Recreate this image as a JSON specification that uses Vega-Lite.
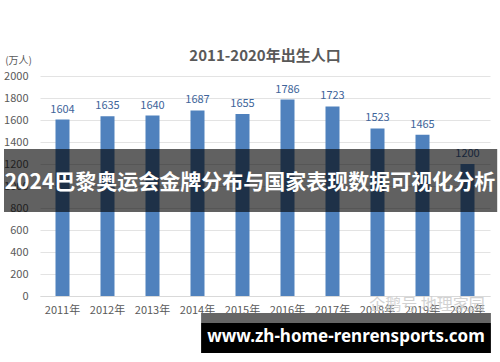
{
  "$schema": "https://vega.github.io/schema/vega-lite/v6.json",
  "width": 450,
  "height": 220,
  "autosize": {"type": "none"},
  "padding": {"left": 40, "top": 76, "right": 10, "bottom": 66},
  "background": "white",
  "title": {"text": "2011-2020年出生人口", "fontSize": 15, "fontWeight": "bold", "color": "#595959", "anchor": "middle", "frame": "group", "offset": -9, "font": "Noto Sans CJK SC"},
  "config": {"view": {"stroke": null}, "font": "Noto Sans CJK SC"},
  "datasets": {
    "births": [
      {"year": "2011年", "births": 1604},
      {"year": "2012年", "births": 1635},
      {"year": "2013年", "births": 1640},
      {"year": "2014年", "births": 1687},
      {"year": "2015年", "births": 1655},
      {"year": "2016年", "births": 1786},
      {"year": "2017年", "births": 1723},
      {"year": "2018年", "births": 1523},
      {"year": "2019年", "births": 1465},
      {"year": "2020年", "births": 1200}
    ],
    "banner": [{"x1": -0.8, "x2": 10.16, "y1": 1336, "y2": 764, "xc": 4.667, "yc": 1030, "label": "2024巴黎奥运会金牌分布与国家表现数据可视化分析"}],
    "strip": [{"x1": 3.58, "x2": 10.02, "y1": -155, "y2": -245}],
    "site": [{"x1": 3.58, "x2": 10.02, "y1": -245, "y2": -518, "xc": 6.8, "yc": -375, "label": "www.zh-home-renrensports.com"}],
    "mark": [{"xc": 8.6, "yc": -82, "label": "企鹅号 地理家园"}]
  },
  "layer": [
    {
      "layer": [
        {
          "mark": {"type": "bar", "color": "#4f81bd", "width": 14},
          "encoding": {
            "y": {"field": "births", "type": "quantitative",
                  "scale": {"domain": [0, 2000], "nice": false},
                  "axis": {"title": "(万人)", "titleAngle": 0, "titleX": -22, "titleY": -16, "titleAlign": "center", "titleBaseline": "middle", "titleFontSize": 10, "titleFontWeight": "normal", "titleColor": "#595959",
                           "values": [0, 200, 400, 600, 800, 1000, 1200, 1400, 1600, 1800, 2000], "format": "d",
                           "grid": true, "gridColor": "#e3e3e3", "domain": false, "ticks": false, "labelPadding": 12, "labelColor": "#595959", "labelFontSize": 11}}
          }
        },
        {
          "mark": {"type": "text", "dy": -10, "color": "#40649a", "fontSize": 11},
          "encoding": {
            "y": {"field": "births", "type": "quantitative",
                  "scale": {"domain": [0, 2000], "nice": false},
                  "axis": {"title": "(万人)", "titleAngle": 0, "titleX": -22, "titleY": -16, "titleAlign": "center", "titleBaseline": "middle", "titleFontSize": 10, "titleFontWeight": "normal", "titleColor": "#595959",
                           "values": [0, 200, 400, 600, 800, 1000, 1200, 1400, 1600, 1800, 2000], "format": "d",
                           "grid": true, "gridColor": "#e3e3e3", "domain": false, "ticks": false, "labelPadding": 12, "labelColor": "#595959", "labelFontSize": 11}},
            "text": {"field": "births", "type": "quantitative"}
          }
        }
      ],
      "data": {"name": "births"},
      "encoding": {
        "x": {"field": "year", "type": "nominal", "sort": null,
              "scale": {"paddingInner": 0, "paddingOuter": 0},
              "axis": {"title": null, "labelAngle": 0, "ticks": false, "domain": true, "domainColor": "#d9d9d9", "labelPadding": 8, "labelColor": "#595959", "labelFontSize": 11, "labelFont": "Noto Sans CJK SC"}}
      }
    },
    {
      "data": {"name": "mark"},
      "mark": {"type": "text", "color": "#c8c8c8", "fontSize": 16, "opacity": 0.8},
      "encoding": {
        "x": {"field": "xc", "type": "quantitative", "scale": {"domain": [0, 10], "nice": false, "zero": false}, "axis": null},
        "y": {"field": "yc", "type": "quantitative", "scale": {"domain": [0, 2000], "nice": false},
              "axis": {"title": "(万人)", "titleAngle": 0, "titleX": -22, "titleY": -16, "titleAlign": "center", "titleBaseline": "middle", "titleFontSize": 10, "titleFontWeight": "normal", "titleColor": "#595959",
                       "values": [0, 200, 400, 600, 800, 1000, 1200, 1400, 1600, 1800, 2000], "format": "d",
                       "grid": true, "gridColor": "#e3e3e3", "domain": false, "ticks": false, "labelPadding": 12, "labelColor": "#595959", "labelFontSize": 11}},
        "text": {"field": "label", "type": "nominal"}
      }
    },
    {
      "data": {"name": "banner"},
      "mark": {"type": "rect", "color": "#000000", "opacity": 0.62},
      "encoding": {
        "x": {"field": "x1", "type": "quantitative", "scale": {"domain": [0, 10], "nice": false, "zero": false}, "axis": null},
        "x2": {"field": "x2"},
        "y": {"field": "y1", "type": "quantitative", "scale": {"domain": [0, 2000], "nice": false},
              "axis": {"title": "(万人)", "titleAngle": 0, "titleX": -22, "titleY": -16, "titleAlign": "center", "titleBaseline": "middle", "titleFontSize": 10, "titleFontWeight": "normal", "titleColor": "#595959",
                       "values": [0, 200, 400, 600, 800, 1000, 1200, 1400, 1600, 1800, 2000], "format": "d",
                       "grid": true, "gridColor": "#e3e3e3", "domain": false, "ticks": false, "labelPadding": 12, "labelColor": "#595959", "labelFontSize": 11}},
        "y2": {"field": "y2"}
      }
    },
    {
      "data": {"name": "banner"},
      "mark": {"type": "text", "color": "#ffffff", "fontSize": 21, "fontWeight": "bold", "font": "Noto Sans CJK SC"},
      "encoding": {
        "x": {"field": "xc", "type": "quantitative", "scale": {"domain": [0, 10], "nice": false, "zero": false}, "axis": null},
        "y": {"field": "yc", "type": "quantitative", "scale": {"domain": [0, 2000], "nice": false},
              "axis": {"title": "(万人)", "titleAngle": 0, "titleX": -22, "titleY": -16, "titleAlign": "center", "titleBaseline": "middle", "titleFontSize": 10, "titleFontWeight": "normal", "titleColor": "#595959",
                       "values": [0, 200, 400, 600, 800, 1000, 1200, 1400, 1600, 1800, 2000], "format": "d",
                       "grid": true, "gridColor": "#e3e3e3", "domain": false, "ticks": false, "labelPadding": 12, "labelColor": "#595959", "labelFontSize": 11}},
        "text": {"field": "label", "type": "nominal"}
      }
    },
    {
      "data": {"name": "strip"},
      "mark": {"type": "rect", "color": "#666666"},
      "encoding": {
        "x": {"field": "x1", "type": "quantitative", "scale": {"domain": [0, 10], "nice": false, "zero": false}, "axis": null},
        "x2": {"field": "x2"},
        "y": {"field": "y1", "type": "quantitative", "scale": {"domain": [0, 2000], "nice": false},
              "axis": {"title": "(万人)", "titleAngle": 0, "titleX": -22, "titleY": -16, "titleAlign": "center", "titleBaseline": "middle", "titleFontSize": 10, "titleFontWeight": "normal", "titleColor": "#595959",
                       "values": [0, 200, 400, 600, 800, 1000, 1200, 1400, 1600, 1800, 2000], "format": "d",
                       "grid": true, "gridColor": "#e3e3e3", "domain": false, "ticks": false, "labelPadding": 12, "labelColor": "#595959", "labelFontSize": 11}},
        "y2": {"field": "y2"}
      }
    },
    {
      "data": {"name": "site"},
      "mark": {"type": "rect", "color": "#000000"},
      "encoding": {
        "x": {"field": "x1", "type": "quantitative", "scale": {"domain": [0, 10], "nice": false, "zero": false}, "axis": null},
        "x2": {"field": "x2"},
        "y": {"field": "y1", "type": "quantitative", "scale": {"domain": [0, 2000], "nice": false},
              "axis": {"title": "(万人)", "titleAngle": 0, "titleX": -22, "titleY": -16, "titleAlign": "center", "titleBaseline": "middle", "titleFontSize": 10, "titleFontWeight": "normal", "titleColor": "#595959",
                       "values": [0, 200, 400, 600, 800, 1000, 1200, 1400, 1600, 1800, 2000], "format": "d",
                       "grid": true, "gridColor": "#e3e3e3", "domain": false, "ticks": false, "labelPadding": 12, "labelColor": "#595959", "labelFontSize": 11}},
        "y2": {"field": "y2"}
      }
    },
    {
      "data": {"name": "site"},
      "mark": {"type": "text", "color": "#ffffff", "fontSize": 17, "fontWeight": "bold", "font": "Noto Sans"},
      "encoding": {
        "x": {"field": "xc", "type": "quantitative", "scale": {"domain": [0, 10], "nice": false, "zero": false}, "axis": null},
        "y": {"field": "yc", "type": "quantitative", "scale": {"domain": [0, 2000], "nice": false},
              "axis": {"title": "(万人)", "titleAngle": 0, "titleX": -22, "titleY": -16, "titleAlign": "center", "titleBaseline": "middle", "titleFontSize": 10, "titleFontWeight": "normal", "titleColor": "#595959",
                       "values": [0, 200, 400, 600, 800, 1000, 1200, 1400, 1600, 1800, 2000], "format": "d",
                       "grid": true, "gridColor": "#e3e3e3", "domain": false, "ticks": false, "labelPadding": 12, "labelColor": "#595959", "labelFontSize": 11}},
        "text": {"field": "label", "type": "nominal"}
      }
    }
  ],
  "resolve": {"scale": {"x": "independent"}}
}
